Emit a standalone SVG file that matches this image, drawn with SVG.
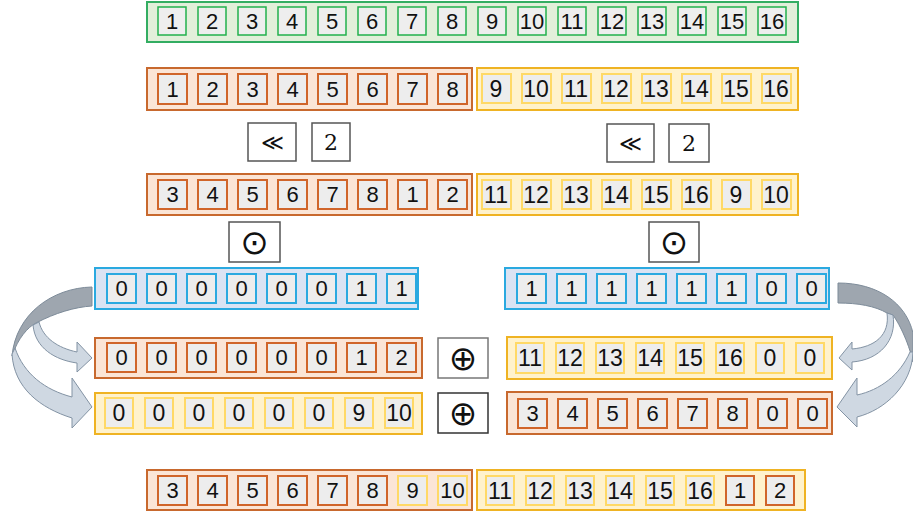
<svg xmlns="http://www.w3.org/2000/svg" width="913" height="513" viewBox="0 0 913 513">
<style>
.gO{fill:#e2efda;stroke:#33ad62;stroke-width:2}
.gc{fill:#eeeeee;stroke:#22b14c;stroke-width:1.5}
.oO{fill:#fbe5d6;stroke:#c8692e;stroke-width:2}
.oc{fill:#ededed;stroke:#d0652a;stroke-width:2}
.yO{fill:#fff2cc;stroke:#efb323;stroke-width:2}
.yc{fill:#ededed;stroke:#ffd966;stroke-width:2}
.bO{fill:#dae3f3;stroke:#2aa9e0;stroke-width:2}
.bc{fill:#ededed;stroke:#2aa9e0;stroke-width:2}
.op{fill:#ffffff;stroke:#555555;stroke-width:1.5}
text{font-family:"Liberation Sans",Arial,sans-serif;font-size:22px;fill:#111;text-anchor:middle}
.ty{font-size:23px}
.sym{font-family:"DejaVu Serif","Liberation Serif",serif;font-size:22px}
.big{font-family:"DejaVu Sans","Liberation Sans",sans-serif;font-size:34px}
.dk{fill:#9ea6af;stroke:#7d8b99;stroke-width:1}
.lt{fill:#cfd8e2;stroke:#8393a4;stroke-width:1}
</style>

<g id="connectors">
<path class="dk" d="M92,287 C52,288 16,314 12,356 C18,338 28,327 36,323 C55,313 75,307 92,306 Z"/>
<path class="lt" d="M12,354 C14,388 40,408 72,418 L72,428 L92,407 L72,378 L72,397 C45,390 24,374 15,348 Z"/>
<path class="lt" d="M33,325 C35,348 55,360 77,363 L77,372 L92,358 L77,342 L77,352 C58,348 43,338 39,322 Z"/>
<path class="dk" d="M838,283 C878,283 906,303 913,333 L913,362 C908,340 898,322 893,315 L887,313 C875,306 858,303 838,303 Z"/>
<path class="lt" d="M913,352 C912,385 885,410 857,417 L857,427 L837,407 L857,378 L857,395 C880,390 900,375 910,352 Z"/>
<path class="lt" d="M887,313 C890,335 875,347 852,349 L852,342 L839,358 L852,370 L852,362 C880,360 897,340 893,315 Z"/>
</g>

<g id="row-green">
<rect class="gO" x="147" y="2" width="651" height="40"/>
<rect class="gc" x="158" y="7" width="28" height="28"/><text x="172" y="29">1</text>
<rect class="gc" x="198" y="7" width="28" height="28"/><text x="212" y="29">2</text>
<rect class="gc" x="238" y="7" width="28" height="28"/><text x="252" y="29">3</text>
<rect class="gc" x="278" y="7" width="28" height="28"/><text x="292" y="29">4</text>
<rect class="gc" x="318" y="7" width="28" height="28"/><text x="332" y="29">5</text>
<rect class="gc" x="358" y="7" width="28" height="28"/><text x="372" y="29">6</text>
<rect class="gc" x="398" y="7" width="28" height="28"/><text x="412" y="29">7</text>
<rect class="gc" x="438" y="7" width="28" height="28"/><text x="452" y="29">8</text>
<rect class="gc" x="478" y="7" width="28" height="28"/><text x="492" y="29">9</text>
<rect class="gc" x="518" y="7" width="28" height="28"/><text x="532" y="29">10</text>
<rect class="gc" x="558" y="7" width="28" height="28"/><text x="572" y="29">11</text>
<rect class="gc" x="598" y="7" width="28" height="28"/><text x="612" y="29">12</text>
<rect class="gc" x="638" y="7" width="28" height="28"/><text x="652" y="29">13</text>
<rect class="gc" x="678" y="7" width="28" height="28"/><text x="692" y="29">14</text>
<rect class="gc" x="718" y="7" width="28" height="28"/><text x="732" y="29">15</text>
<rect class="gc" x="758" y="7" width="28" height="28"/><text x="772" y="29">16</text>
</g>

<g id="row2-orange">
<rect class="oO" x="147" y="68" width="325" height="42"/>
<rect class="oc" x="158" y="74" width="29" height="30"/><text x="172.5" y="97">1</text>
<rect class="oc" x="198" y="74" width="29" height="30"/><text x="212.5" y="97">2</text>
<rect class="oc" x="238" y="74" width="29" height="30"/><text x="252.5" y="97">3</text>
<rect class="oc" x="278" y="74" width="29" height="30"/><text x="292.5" y="97">4</text>
<rect class="oc" x="318" y="74" width="29" height="30"/><text x="332.5" y="97">5</text>
<rect class="oc" x="358" y="74" width="29" height="30"/><text x="372.5" y="97">6</text>
<rect class="oc" x="398" y="74" width="29" height="30"/><text x="412.5" y="97">7</text>
<rect class="oc" x="438" y="74" width="29" height="30"/><text x="452.5" y="97">8</text>
</g>

<g id="row2-yellow">
<rect class="yO" x="477" y="68" width="321" height="42"/>
<rect class="yc" x="482" y="74" width="29" height="29"/><text class="ty" x="496" y="97">9</text>
<rect class="yc" x="522" y="74" width="29" height="29"/><text class="ty" x="536" y="97">10</text>
<rect class="yc" x="562" y="74" width="29" height="29"/><text class="ty" x="576" y="97">11</text>
<rect class="yc" x="602" y="74" width="29" height="29"/><text class="ty" x="616" y="97">12</text>
<rect class="yc" x="642" y="74" width="29" height="29"/><text class="ty" x="656" y="97">13</text>
<rect class="yc" x="682" y="74" width="29" height="29"/><text class="ty" x="696" y="97">14</text>
<rect class="yc" x="722" y="74" width="29" height="29"/><text class="ty" x="736" y="97">15</text>
<rect class="yc" x="762" y="74" width="29" height="29"/><text class="ty" x="776" y="97">16</text>
</g>

<g id="op-shift-left">
<rect class="op" x="248" y="123" width="48" height="38"/><text class="sym" x="272" y="150">≪</text>
</g>
<g id="op-two-left">
<rect class="op" x="312" y="123" width="38" height="38"/><text class="sym" x="331" y="150">2</text>
</g>
<g id="op-shift-right">
<rect class="op" x="607" y="124" width="47" height="38"/><text class="sym" x="630.5" y="151">≪</text>
</g>
<g id="op-two-right">
<rect class="op" x="669" y="124" width="40" height="38"/><text class="sym" x="689" y="151">2</text>
</g>

<g id="row3-orange">
<rect class="oO" x="147" y="174" width="325" height="41"/>
<rect class="oc" x="158" y="180" width="29" height="29"/><text x="172.5" y="202">3</text>
<rect class="oc" x="198" y="180" width="29" height="29"/><text x="212.5" y="202">4</text>
<rect class="oc" x="238" y="180" width="29" height="29"/><text x="252.5" y="202">5</text>
<rect class="oc" x="278" y="180" width="29" height="29"/><text x="292.5" y="202">6</text>
<rect class="oc" x="318" y="180" width="29" height="29"/><text x="332.5" y="202">7</text>
<rect class="oc" x="358" y="180" width="29" height="29"/><text x="372.5" y="202">8</text>
<rect class="oc" x="398" y="180" width="29" height="29"/><text x="412.5" y="202">1</text>
<rect class="oc" x="438" y="180" width="29" height="29"/><text x="452.5" y="202">2</text>
</g>

<g id="row3-yellow">
<rect class="yO" x="477" y="174" width="321" height="41"/>
<rect class="yc" x="482" y="180" width="29" height="29"/><text class="ty" x="496" y="203">11</text>
<rect class="yc" x="522" y="180" width="29" height="29"/><text class="ty" x="536" y="203">12</text>
<rect class="yc" x="562" y="180" width="29" height="29"/><text class="ty" x="576" y="203">13</text>
<rect class="yc" x="602" y="180" width="29" height="29"/><text class="ty" x="616" y="203">14</text>
<rect class="yc" x="642" y="180" width="29" height="29"/><text class="ty" x="656" y="203">15</text>
<rect class="yc" x="682" y="180" width="29" height="29"/><text class="ty" x="696" y="203">16</text>
<rect class="yc" x="722" y="180" width="29" height="29"/><text class="ty" x="736" y="203">9</text>
<rect class="yc" x="762" y="180" width="29" height="29"/><text class="ty" x="776" y="203">10</text>
</g>

<g id="op-odot-left">
<rect class="op" x="229" y="222" width="51" height="40"/><text class="big" x="254.5" y="254">⊙</text>
</g>
<g id="op-odot-right">
<rect class="op" x="649" y="222" width="50" height="40"/><text class="big" x="674" y="254">⊙</text>
</g>

<g id="mask-left">
<rect class="bO" x="95" y="268" width="323" height="41"/>
<rect class="bc" x="107" y="274" width="29" height="29"/><text x="121.5" y="296">0</text>
<rect class="bc" x="147" y="274" width="29" height="29"/><text x="161.5" y="296">0</text>
<rect class="bc" x="187" y="274" width="29" height="29"/><text x="201.5" y="296">0</text>
<rect class="bc" x="227" y="274" width="29" height="29"/><text x="241.5" y="296">0</text>
<rect class="bc" x="267" y="274" width="29" height="29"/><text x="281.5" y="296">0</text>
<rect class="bc" x="307" y="274" width="29" height="29"/><text x="321.5" y="296">0</text>
<rect class="bc" x="347" y="274" width="29" height="29"/><text x="361.5" y="296">1</text>
<rect class="bc" x="387" y="274" width="29" height="29"/><text x="401.5" y="296">1</text>
</g>

<g id="mask-right">
<rect class="bO" x="505" y="268" width="324" height="41"/>
<rect class="bc" x="517" y="274" width="29" height="29"/><text x="531.5" y="296">1</text>
<rect class="bc" x="557" y="274" width="29" height="29"/><text x="571.5" y="296">1</text>
<rect class="bc" x="597" y="274" width="29" height="29"/><text x="611.5" y="296">1</text>
<rect class="bc" x="637" y="274" width="29" height="29"/><text x="651.5" y="296">1</text>
<rect class="bc" x="677" y="274" width="29" height="29"/><text x="691.5" y="296">1</text>
<rect class="bc" x="717" y="274" width="29" height="29"/><text x="731.5" y="296">1</text>
<rect class="bc" x="757" y="274" width="29" height="29"/><text x="771.5" y="296">0</text>
<rect class="bc" x="797" y="274" width="29" height="29"/><text x="811.5" y="296">0</text>
</g>

<g id="row5-left">
<rect class="oO" x="95" y="338" width="327" height="40"/>
<rect class="oc" x="107" y="343" width="29" height="29"/><text x="121.5" y="365">0</text>
<rect class="oc" x="147" y="343" width="29" height="29"/><text x="161.5" y="365">0</text>
<rect class="oc" x="187" y="343" width="29" height="29"/><text x="201.5" y="365">0</text>
<rect class="oc" x="227" y="343" width="29" height="29"/><text x="241.5" y="365">0</text>
<rect class="oc" x="267" y="343" width="29" height="29"/><text x="281.5" y="365">0</text>
<rect class="oc" x="307" y="343" width="29" height="29"/><text x="321.5" y="365">0</text>
<rect class="oc" x="347" y="343" width="29" height="29"/><text x="361.5" y="365">1</text>
<rect class="oc" x="387" y="343" width="29" height="29"/><text x="401.5" y="365">2</text>
</g>

<g id="row6-left">
<rect class="yO" x="95" y="393" width="327" height="41"/>
<rect class="yc" x="105" y="398" width="28" height="30"/><text class="ty" x="119" y="421">0</text>
<rect class="yc" x="145" y="398" width="28" height="30"/><text class="ty" x="159" y="421">0</text>
<rect class="yc" x="185" y="398" width="28" height="30"/><text class="ty" x="199" y="421">0</text>
<rect class="yc" x="225" y="398" width="28" height="30"/><text class="ty" x="239" y="421">0</text>
<rect class="yc" x="265" y="398" width="28" height="30"/><text class="ty" x="279" y="421">0</text>
<rect class="yc" x="305" y="398" width="28" height="30"/><text class="ty" x="319" y="421">0</text>
<rect class="yc" x="345" y="398" width="28" height="30"/><text class="ty" x="359" y="421">9</text>
<rect class="yc" x="385" y="398" width="28" height="30"/><text class="ty" x="399" y="421">10</text>
</g>

<g id="op-oplus-top">
<rect class="op" x="438" y="338" width="50" height="40" style="stroke:#777"/><text class="big" x="463" y="370">⊕</text>
</g>
<g id="op-oplus-bottom">
<rect class="op" x="438" y="393" width="50" height="40" style="stroke:#333"/><text class="big" x="463" y="425">⊕</text>
</g>

<g id="row5-right">
<rect class="yO" x="507" y="337" width="325" height="42"/>
<rect class="yc" x="516" y="343" width="28" height="30"/><text class="ty" x="530" y="366">11</text>
<rect class="yc" x="556" y="343" width="28" height="30"/><text class="ty" x="570" y="366">12</text>
<rect class="yc" x="596" y="343" width="28" height="30"/><text class="ty" x="610" y="366">13</text>
<rect class="yc" x="636" y="343" width="28" height="30"/><text class="ty" x="650" y="366">14</text>
<rect class="yc" x="676" y="343" width="28" height="30"/><text class="ty" x="690" y="366">15</text>
<rect class="yc" x="716" y="343" width="28" height="30"/><text class="ty" x="730" y="366">16</text>
<rect class="yc" x="756" y="343" width="28" height="30"/><text class="ty" x="770" y="366">0</text>
<rect class="yc" x="796" y="343" width="28" height="30"/><text class="ty" x="810" y="366">0</text>
</g>

<g id="row6-right">
<rect class="oO" x="507" y="392" width="325" height="42"/>
<rect class="oc" x="518" y="399" width="29" height="29"/><text x="532.5" y="421">3</text>
<rect class="oc" x="558" y="399" width="29" height="29"/><text x="572.5" y="421">4</text>
<rect class="oc" x="598" y="399" width="29" height="29"/><text x="612.5" y="421">5</text>
<rect class="oc" x="638" y="399" width="29" height="29"/><text x="652.5" y="421">6</text>
<rect class="oc" x="678" y="399" width="29" height="29"/><text x="692.5" y="421">7</text>
<rect class="oc" x="718" y="399" width="29" height="29"/><text x="732.5" y="421">8</text>
<rect class="oc" x="758" y="399" width="29" height="29"/><text x="772.5" y="421">0</text>
<rect class="oc" x="798" y="399" width="29" height="29"/><text x="812.5" y="421">0</text>
</g>

<g id="result-left">
<rect class="oO" x="147" y="470" width="325" height="40"/>
<rect class="oc" x="158" y="476" width="29" height="29"/><text x="172.5" y="498">3</text>
<rect class="oc" x="198" y="476" width="29" height="29"/><text x="212.5" y="498">4</text>
<rect class="oc" x="238" y="476" width="29" height="29"/><text x="252.5" y="498">5</text>
<rect class="oc" x="278" y="476" width="29" height="29"/><text x="292.5" y="498">6</text>
<rect class="oc" x="318" y="476" width="29" height="29"/><text x="332.5" y="498">7</text>
<rect class="oc" x="358" y="476" width="29" height="29"/><text x="372.5" y="498">8</text>
<rect class="yc" x="398" y="476" width="29" height="29"/><text x="412.5" y="498">9</text>
<rect class="yc" x="438" y="476" width="29" height="29"/><text x="452.5" y="498">10</text>
</g>

<g id="result-right">
<rect class="yO" x="477" y="470" width="328" height="40"/>
<rect class="yc" x="486" y="476" width="28" height="29"/><text class="ty" x="500" y="499">11</text>
<rect class="yc" x="526" y="476" width="28" height="29"/><text class="ty" x="540" y="499">12</text>
<rect class="yc" x="566" y="476" width="28" height="29"/><text class="ty" x="580" y="499">13</text>
<rect class="yc" x="606" y="476" width="28" height="29"/><text class="ty" x="620" y="499">14</text>
<rect class="yc" x="646" y="476" width="28" height="29"/><text class="ty" x="660" y="499">15</text>
<rect class="yc" x="686" y="476" width="28" height="29"/><text class="ty" x="700" y="499">16</text>
<rect class="oc" x="726" y="476" width="28" height="29"/><text x="740" y="498">1</text>
<rect class="oc" x="766" y="476" width="28" height="29"/><text x="780" y="498">2</text>
</g>
</svg>
